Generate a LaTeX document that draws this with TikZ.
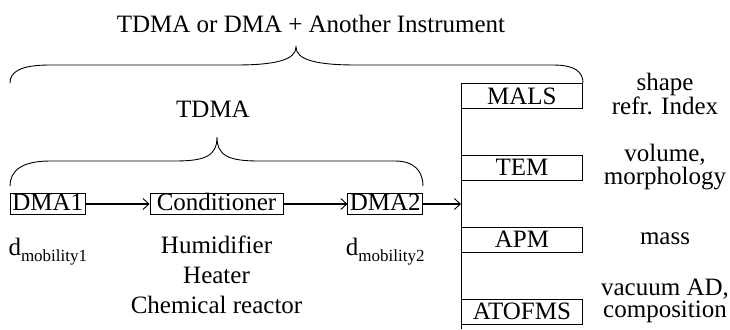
\documentclass[tikz,border=0pt]{standalone}
\usepackage{fontspec}
\setmainfont{Liberation Serif}
\usetikzlibrary{arrows.meta, positioning}

\begin{document}
\begin{tikzpicture}[x=1pt,y=-1pt,node distance=64pt,
    font=\fontsize{25}{30}\selectfont,
    >={Straight Barb[length=6pt,width=11pt,line width=0.9pt]}]
  \tikzstyle{unit}=[draw,line width=0.8pt,inner xsep=2pt,inner ysep=0pt,text height=17pt,text depth=4pt]
  \tikzstyle{instr}=[draw,line width=0.8pt,minimum width=121pt,minimum height=25pt,inner sep=0pt,anchor=west]
  \tikzstyle{info}=[align=center,inner sep=0pt]
  \tikzstyle{brace}=[line width=0.9pt]
  \tikzstyle{flow}=[->,line width=1.5pt]
  \useasboundingbox (0,0) rectangle (730,329);

  % titles
  \node[anchor=base] (alltitle) at (311,33) {TDMA or DMA + Another Instrument};
  \node[anchor=base] (tdmatitle) at (213,117) {TDMA};

  % braces
  \draw[brace] (10,83) .. controls (10,72) and (20,65) .. (50,65) -- (236,65)
    .. controls (275,65) and (296,60) .. (296,47)
    .. controls (296,60) and (317,65) .. (356,65) -- (553,65)
    .. controls (575,65) and (583,72) .. (583,83);
  \draw[brace] (10,186) .. controls (10,172) and (20,161) .. (50,161) -- (175,161)
    .. controls (205,161) and (217,156) .. (217,137)
    .. controls (217,156) and (229,161) .. (259,161) -- (395,161)
    .. controls (415,161) and (423,172) .. (423,186);

  % TDMA chain
  \node[unit, anchor=west] (dma1) at (10,204) {DMA1};
  \node[unit, minimum width=133pt] (cond) [right=of dma1] {Conditioner};
  \node[unit] (dma2) [right=of cond] {DMA2};

  \node[inner sep=0pt] (d1) [below=23pt of dma1] {d\raisebox{-6pt}{\fontsize{17}{20}\selectfont mobility1}};
  \node[info] (treat) [below=21pt of cond] {Humidifier\\Heater\\Chemical reactor};
  \node[inner sep=0pt] (d2) [below=23pt of dma2] {d\raisebox{-6pt}{\fontsize{17}{20}\selectfont mobility2}};

  % instruments
  \coordinate (top) at (461,83);
  \coordinate (bot) at (461,329);
  \coordinate (hub) at (461,204);
  \draw[line width=0.8pt] (top) -- (bot);

  \node[instr] (mals) at (461,96) {MALS};
  \node[instr] (tem) [below=46pt of mals.south west, anchor=north west] {TEM};
  \node[instr] (apm) [below=46pt of tem.south west, anchor=north west] {APM};
  \node[instr] (atofms) [below=46pt of apm.south west, anchor=north west] {ATOFMS};

  \node[info, font=\fontsize{25}{20}\selectfont] (malsinfo) at (665,94) {shape\\refr. Index};
  \node[info, font=\fontsize{25}{21}\selectfont] (teminfo) at (665,167) {volume,\\morphology};
  \node[info] (apminfo) at (665,239) {mass};
  \node[info, font=\fontsize{25}{18}\selectfont] (atofmsinfo) at (665,301) {vacuum AD,\\composition};

  % flow
  \draw[flow] (dma1) -- (cond);
  \draw[flow] (cond) -- (dma2);
  \draw[flow] (dma2) -- (hub);
\end{tikzpicture}
\end{document}
